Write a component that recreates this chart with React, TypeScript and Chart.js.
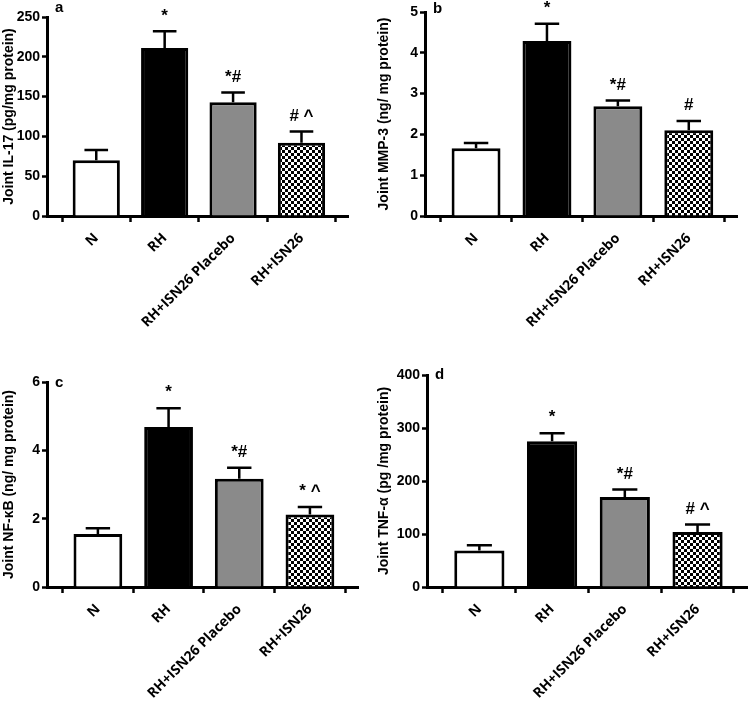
import React, { useEffect, useRef } from "react";
import { Chart, registerables } from "chart.js";

Chart.register(...registerables);

// ---------- data ----------
const categories = ["N", "RH", "RH+ISN26 Placebo", "RH+ISN26"];

const il17Values = [70, 211, 143, 92];
const il17Errors = [13, 21, 12, 14];
const il17Marks = ["", "*", "*#", "# ^"];

const mmp3Values = [1.66, 4.29, 2.69, 2.1];
const mmp3Errors = [0.13, 0.42, 0.14, 0.23];
const mmp3Marks = ["", "*", "*#", "#"];

const nfkbValues = [1.55, 4.68, 3.17, 2.12];
const nfkbErrors = [0.17, 0.55, 0.32, 0.22];
const nfkbMarks = ["", "*", "*#", "* ^"];

const tnfValues = [69, 275, 170, 104];
const tnfErrors = [10, 15, 14, 14];
const tnfMarks = ["", "*", "*#", "# ^"];

const panelLetters = ["a", "b", "c", "d"];
const yTitles = [
  "Joint IL-17 (pg/mg protein)",
  "Joint MMP-3 (ng/ mg protein)",
  "Joint NF-\u03baB (ng/ mg protein)",
  "Joint TNF-\u03b1 (pg /mg protein)",
];
const yMax = [250, 5, 6, 400];
const yStep = [50, 1, 2, 100];

// ---------- layout / style ----------
const W = 375;
const H = 360;
const X_MIN = -0.72;
const X_MAX = 3.68;
const panels = [
  { values: il17Values, errors: il17Errors, marks: il17Marks, left: 0, top: 0, area: { l: 47, r: 348, t: 17, b: 216 }, letterDy: -9 },
  { values: mmp3Values, errors: mmp3Errors, marks: mmp3Marks, left: 375, top: 0, area: { l: 50, r: 362, t: 12, b: 216 }, letterDy: -3 },
  { values: nfkbValues, errors: nfkbErrors, marks: nfkbMarks, left: 0, top: 360, area: { l: 47, r: 358, t: 22, b: 227 }, letterDy: 1 },
  { values: tnfValues, errors: tnfErrors, marks: tnfMarks, left: 375, top: 360, area: { l: 52, r: 372, t: 15, b: 227 }, letterDy: 0 },
];

function checker(): CanvasPattern | string {
  const c = document.createElement("canvas");
  c.width = 6;
  c.height = 6;
  const g = c.getContext("2d");
  if (!g) return "#777";
  g.fillStyle = "#fff";
  g.fillRect(0, 0, 6, 6);
  g.fillStyle = "#000";
  g.fillRect(0, 0, 3, 3);
  g.fillRect(3, 3, 3, 3);
  const ctx = document.createElement("canvas").getContext("2d");
  return (ctx && ctx.createPattern(c, "repeat")) || "#777";
}

const errorBarPlugin = {
  id: "errorBars",
  afterDatasetsDraw(chart: any) {
    const opts = chart.options.plugins.errorBars;
    const meta = chart.getDatasetMeta(0);
    const y = chart.scales.y;
    const ctx = chart.ctx;
    ctx.save();
    ctx.strokeStyle = "#000";
    ctx.lineWidth = 2.5;
    meta.data.forEach((bar: any, i: number) => {
      const v = opts.values[i];
      const e = opts.errors[i];
      const yb = y.getPixelForValue(v);
      const yt = y.getPixelForValue(v + e);
      const half = bar.width / 4;
      ctx.beginPath();
      ctx.moveTo(bar.x, yb);
      ctx.lineTo(bar.x, yt);
      ctx.moveTo(bar.x - half, yt);
      ctx.lineTo(bar.x + half, yt);
      ctx.stroke();
      const m = opts.marks[i];
      if (m) {
        ctx.fillStyle = "#000";
        ctx.font = "bold 17px 'Liberation Sans', Arial, sans-serif";
        ctx.textAlign = "center";
        ctx.textBaseline = "bottom";
        ctx.fillText(m, bar.x, yt - 7);
      }
    });
    // panel letter
    const area = chart.chartArea;
    ctx.fillStyle = "#000";
    ctx.font = "bold 15px 'Liberation Sans', Arial, sans-serif";
    ctx.textAlign = "left";
    ctx.textBaseline = "middle";
    ctx.fillText(opts.letter, area.left + 8, area.top + opts.letterDy);
    ctx.restore();
  },
};

function Panel({ idx }: { idx: number }) {
  const ref = useRef<HTMLCanvasElement | null>(null);
  const p = panels[idx];
  useEffect(() => {
    if (!ref.current) return;
    const pattern = checker();
    const chart = new Chart(ref.current, {
      type: "bar",
      data: {
        datasets: [
          {
            data: p.values.map((v, i) => ({ x: i, y: v })),
            backgroundColor: ["#ffffff", "#000000", "#8a8a8a", pattern as any],
            borderColor: "#000",
            borderWidth: 3,
            borderSkipped: "bottom",
            barPercentage: 0.69,
            categoryPercentage: 1,
          },
        ],
      },
      options: {
        animation: false,
        responsive: false,
        layout: { padding: { left: 0, top: p.area.t, right: W - p.area.r, bottom: 0 } },
        plugins: {
          legend: { display: false },
          tooltip: { enabled: false },
          errorBars: {
            values: p.values,
            errors: p.errors,
            marks: p.marks,
            letter: panelLetters[idx],
            letterDy: p.letterDy,
          },
        } as any,
        scales: {
          x: {
            type: "linear",
            min: X_MIN,
            max: X_MAX,
            offset: false,
            grid: { display: true, drawOnChartArea: false, drawTicks: true, tickLength: 6, tickWidth: 2.5, tickColor: "#000" },
            border: { display: true, color: "#000", width: 3 },
            ticks: {
              stepSize: 1,
              includeBounds: false,
              autoSkip: false,
              color: "#000",
              minRotation: 45,
              maxRotation: 45,
              padding: 8,
              callback: (v: any) => (Number.isInteger(v) && categories[v] !== undefined ? categories[v] : ""),
              font: { family: "'Open Sans', sans-serif", size: 14, weight: "bold" },
            },
            afterFit: (s: any) => {
              s.height = H - p.area.b;
            },
          } as any,
          y: {
            min: 0,
            max: yMax[idx],
            grid: { display: true, drawOnChartArea: false, drawTicks: true, tickLength: 5, tickWidth: 2.5, tickColor: "#000" },
            border: { display: true, color: "#000", width: 3 },
            ticks: {
              stepSize: yStep[idx],
              color: "#000",
              padding: 2,
              font: { family: "'Liberation Sans', Arial, sans-serif", size: 14, weight: "bold" },
            },
            title: {
              display: true,
              text: yTitles[idx],
              color: "#000",
              padding: { top: 1, bottom: 0 },
              font: { family: "'Liberation Sans', Arial, sans-serif", size: 14, weight: "bold" },
            },
            afterFit: (s: any) => {
              s.width = p.area.l;
            },
          },
        },
      },
      plugins: [errorBarPlugin],
    });
    return () => chart.destroy();
  }, []);
  return (
    <div style={{ position: "absolute", left: p.left, top: p.top, width: W, height: H }}>
      <canvas ref={ref} width={W} height={H} style={{ width: W, height: H, display: "block" }} />
    </div>
  );
}

export default function App() {
  return (
    <div style={{ position: "absolute", left: 0, top: 0, width: 750, height: 720, background: "#fff" }}>
      {panels.map((_, i) => (
        <Panel key={i} idx={i} />
      ))}
    </div>
  );
}
